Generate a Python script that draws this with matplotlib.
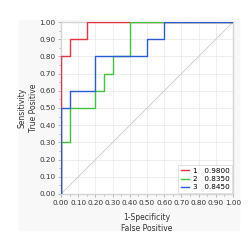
import numpy as np
import matplotlib.pyplot as plt
from matplotlib.lines import Line2D

# ROC step curves (false positive rate, true positive rate)
fpr1 = [0.0, 0.0, 0.05, 0.05, 0.15, 0.15, 1.0]
tpr1 = [0.0, 0.8, 0.8, 0.9, 0.9, 1.0, 1.0]
fpr2 = [0.0, 0.0, 0.05, 0.05, 0.20, 0.20, 0.25, 0.25, 0.30, 0.30, 0.40, 0.40, 1.0]
tpr2 = [0.0, 0.3, 0.3, 0.5, 0.5, 0.6, 0.6, 0.7, 0.7, 0.8, 0.8, 1.0, 1.0]
fpr3 = [0.0, 0.0, 0.05, 0.05, 0.20, 0.20, 0.50, 0.50, 0.60, 0.60, 1.0]
tpr3 = [0.0, 0.5, 0.5, 0.6, 0.6, 0.8, 0.8, 0.9, 0.9, 1.0, 1.0]
names = ['1', '2', '3']
aucs = [0.9800, 0.8350, 0.8450]
colors = ['#e8323f', '#3cc43c', '#2a5bd7']

fig = plt.figure(figsize=(2.5, 2.5), dpi=100)
fig.patches.append(plt.Rectangle((0.076, 0.08), 0.88, 0.84, transform=fig.transFigure,
                                 color='#f8f8f8', zorder=-1))
ax = fig.add_axes([0.244, 0.224, 0.688, 0.688])

ax.plot([0, 1], [0, 1], color='#c8c8c8', lw=0.6, zorder=1)
for fx, ty, c in zip([fpr1, fpr2, fpr3], [tpr1, tpr2, tpr3], colors):
    ax.plot(fx, ty, color=c, lw=1.0, zorder=3)

ax.set_xlim(0, 1)
ax.set_ylim(0, 1)
ticks = np.arange(0, 1.01, 0.1)
ax.set_xticks(ticks)
ax.set_yticks(ticks)
ax.set_xticklabels([f'{t:.2f}' for t in ticks], fontsize=5.2, color='#333333')
ax.set_yticklabels([f'{t:.2f}' for t in ticks], fontsize=5.2, color='#333333')
ax.set_xticks(np.arange(0.05, 1, 0.1), minor=True)
ax.set_yticks(np.arange(0.05, 1, 0.1), minor=True)
ax.tick_params(which='major', length=2.5, width=0.5, color='#999999', pad=1.5)
ax.tick_params(which='minor', length=1.5, width=0.5, color='#999999')
ax.grid(True, which='major', color='#ebebeb', lw=0.6, zorder=0)
ax.set_axisbelow(True)
for s in ax.spines.values():
    s.set_color('#d4d4d4')
    s.set_linewidth(1.0)

ax.set_xlabel('1-Specificity\nFalse Positive', fontsize=5.5, color='#333333', labelpad=5,
              linespacing=1.35)
ax.set_ylabel('Sensitivity\nTrue Positive', fontsize=5.5, color='#333333', labelpad=1,
              linespacing=1.3)

handles = [Line2D([0], [0], color=c, lw=1.0) for c in colors]
labels = [f'{n}   {a:.4f}' for n, a in zip(names, aucs)]
leg = ax.legend(handles, labels, loc='lower right', fontsize=5.2, frameon=True,
                fancybox=False, handlelength=1.1, handletextpad=0.5,
                borderpad=0.4, labelspacing=0.3, borderaxespad=0.1)
leg.get_frame().set_edgecolor('#d4d4d4')
leg.get_frame().set_linewidth(0.6)

fig.savefig('out.png', dpi=100)
